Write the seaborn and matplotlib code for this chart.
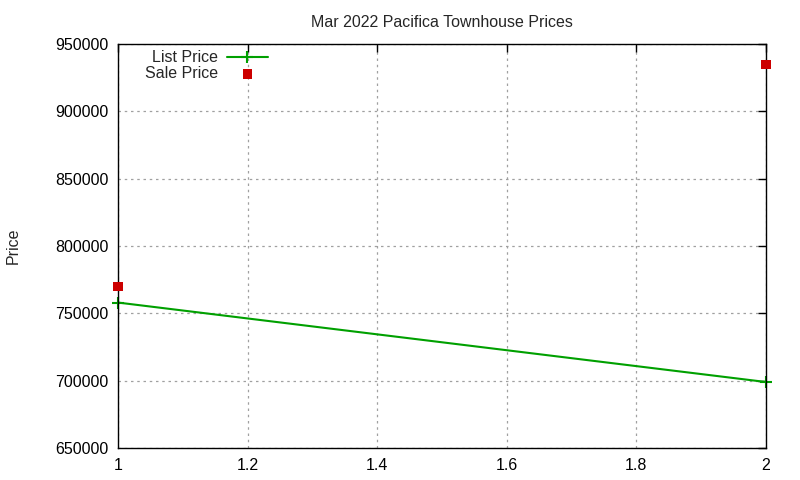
import matplotlib
matplotlib.use("Agg")
import matplotlib.pyplot as plt
import seaborn as sns
import pandas as pd

# data
list_x = [1, 2]
list_price = [758000, 699000]
sale_x = [1, 2]
sale_price = [770000, 935000]
x_ticks = [1, 1.2, 1.4, 1.6, 1.8, 2]
x_tick_labels = ["1", "1.2", "1.4", "1.6", "1.8", "2"]
y_ticks = [650000, 700000, 750000, 800000, 850000, 900000, 950000]

sns.set_style("white")
plt.rcParams['font.family'] = ['Liberation Sans', 'DejaVu Sans']

list_df = pd.DataFrame({"x": list_x, "price": list_price})
sale_df = pd.DataFrame({"x": sale_x, "price": sale_price})

fig = plt.figure(figsize=(8, 4.8), dpi=100)
ax = fig.add_axes([118 / 800, 1 - 448 / 480, (766 - 118) / 800, (448 - 44) / 480])

green = "#00a000"
sns.lineplot(data=list_df, x="x", y="price", ax=ax, color=green, lw=1.5,
             marker="+", markersize=9, markeredgewidth=1.5, markeredgecolor=green,
             label="List Price", clip_on=False)
sns.scatterplot(data=sale_df, x="x", y="price", ax=ax, color="#cc0000", marker="s",
                s=45, edgecolor="none", label="Sale Price", zorder=5, clip_on=False)

ax.set_xlim(1, 2)
ax.set_ylim(650000, 950000)
ax.set_xticks(x_ticks)
ax.set_xticklabels(x_tick_labels)
ax.set_yticks(y_ticks)
ax.tick_params(direction="in", top=True, right=True, length=6, width=1,
               labelsize=11.5, colors="black", pad=7)
ax.grid(True, linestyle=(0, (2, 3)), color="#a0a0a0", lw=0.9)
for s in ax.spines.values():
    s.set_color("black")
    s.set_linewidth(1)

ax.set_xlabel("")
ax.set_ylabel("Price", fontsize=11.5)
ax.yaxis.set_label_coords(-0.15, 0.5)
ax.set_title("Mar 2022 Pacifica Townhouse Prices", fontsize=11.5, pad=12)

leg = ax.legend(loc="upper left", markerfirst=False, frameon=False, fontsize=11.5,
                bbox_to_anchor=(0.024, 1.012), handlelength=2.6, labelspacing=0.05,
                borderaxespad=0.3, handletextpad=0.55, numpoints=1, scatterpoints=1)
for t in leg.get_texts():
    t.set_ha("right")

fig.savefig("out.png", dpi=100)
